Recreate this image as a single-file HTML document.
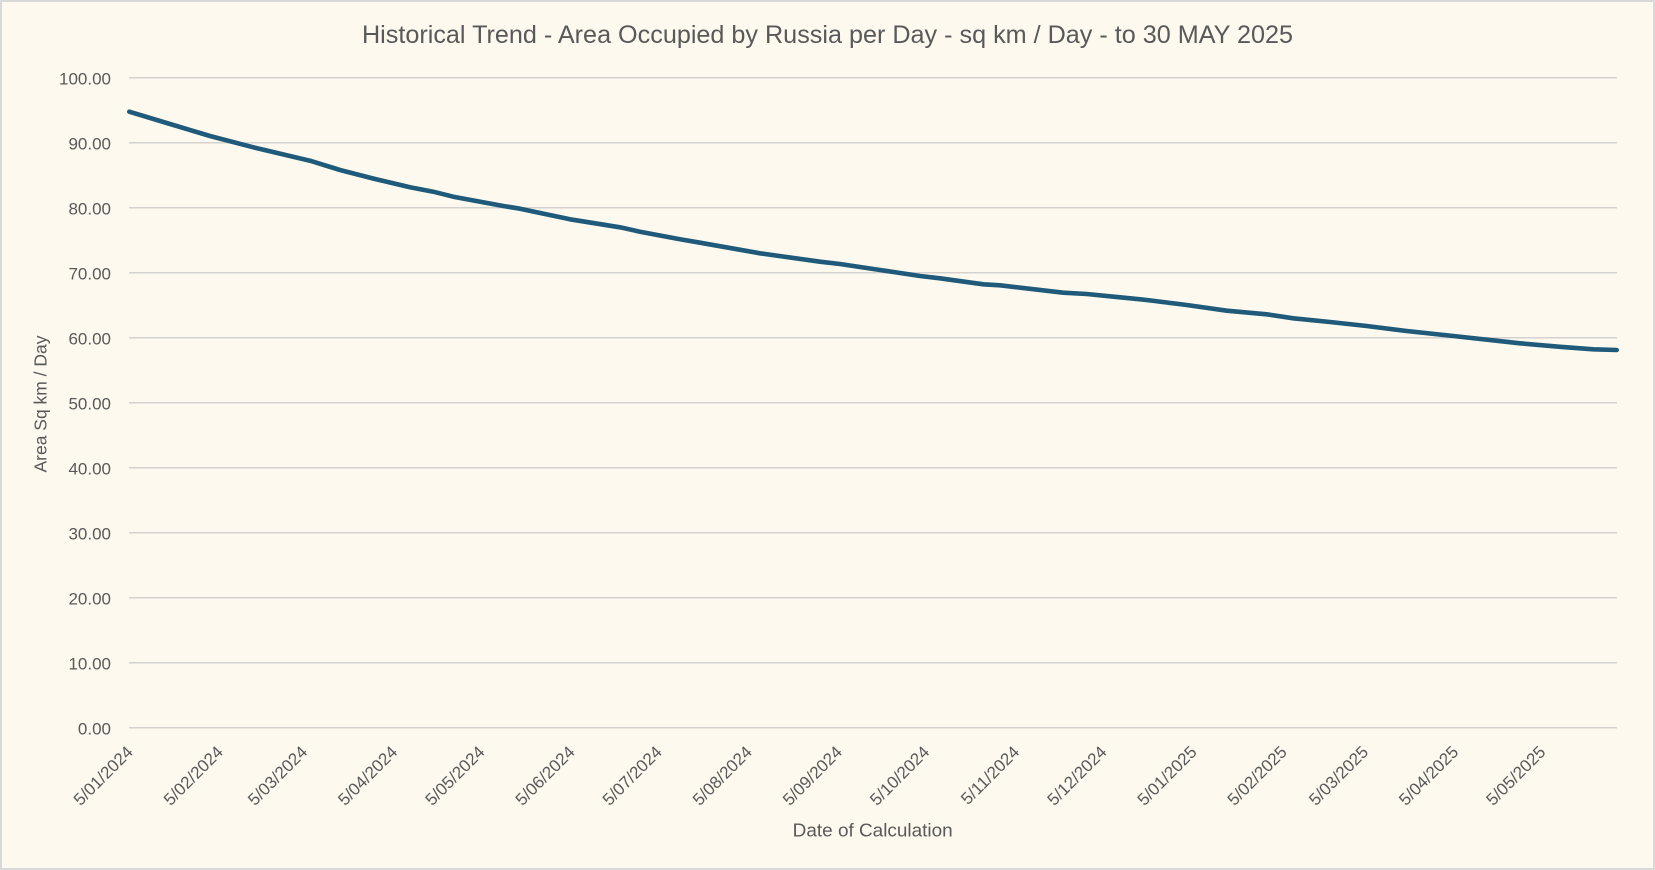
<!DOCTYPE html>
<html>
<head>
<meta charset="utf-8">
<style>
  html, body { margin: 0; padding: 0; background: #fdf9ee; }
  svg { display: block; }
  text { font-family: "Liberation Sans", Arial, sans-serif; fill: #595959; }
</style>
</head>
<body>
<svg width="1655" height="870" viewBox="0 0 1655 870" xmlns="http://www.w3.org/2000/svg">
  <rect x="0" y="0" width="1655" height="870" fill="#fdf9ee"/>
  <rect x="1" y="1" width="1653" height="868" fill="none" stroke="#d9d9d9" stroke-width="2"/>

  <!-- Title -->
  <text x="827.5" y="43" font-size="25" text-anchor="middle" textLength="931" lengthAdjust="spacingAndGlyphs">Historical Trend - Area Occupied by Russia per Day - sq km / Day - to 30 MAY 2025</text>

  <!-- Gridlines -->
  <g stroke="#d4d2cf" stroke-width="1.5">
    <line x1="129" y1="77.7" x2="1617" y2="77.7"/>
    <line x1="129" y1="142.7" x2="1617" y2="142.7"/>
    <line x1="129" y1="207.7" x2="1617" y2="207.7"/>
    <line x1="129" y1="272.7" x2="1617" y2="272.7"/>
    <line x1="129" y1="337.7" x2="1617" y2="337.7"/>
    <line x1="129" y1="402.7" x2="1617" y2="402.7"/>
    <line x1="129" y1="467.7" x2="1617" y2="467.7"/>
    <line x1="129" y1="532.7" x2="1617" y2="532.7"/>
    <line x1="129" y1="597.7" x2="1617" y2="597.7"/>
    <line x1="129" y1="662.7" x2="1617" y2="662.7"/>
    <line x1="129" y1="727.7" x2="1617" y2="727.7"/>
  </g>

  <!-- Y tick labels -->
  <g font-size="17" text-anchor="end">
    <text x="111" y="84.5">100.00</text>
    <text x="111" y="149.5">90.00</text>
    <text x="111" y="214.5">80.00</text>
    <text x="111" y="279.5">70.00</text>
    <text x="111" y="344.5">60.00</text>
    <text x="111" y="409.5">50.00</text>
    <text x="111" y="474.5">40.00</text>
    <text x="111" y="539.5">30.00</text>
    <text x="111" y="604.5">20.00</text>
    <text x="111" y="669.5">10.00</text>
    <text x="111" y="734.5">0.00</text>
  </g>

  <!-- X tick labels (rotated) -->
  <g font-size="17" text-anchor="end">
    <text transform="translate(134,753) rotate(-45)">5/01/2024</text>
    <text transform="translate(224.1,753) rotate(-45)">5/02/2024</text>
    <text transform="translate(308.4,753) rotate(-45)">5/03/2024</text>
    <text transform="translate(398.5,753) rotate(-45)">5/04/2024</text>
    <text transform="translate(485.7,753) rotate(-45)">5/05/2024</text>
    <text transform="translate(575.8,753) rotate(-45)">5/06/2024</text>
    <text transform="translate(663.0,753) rotate(-45)">5/07/2024</text>
    <text transform="translate(753.1,753) rotate(-45)">5/08/2024</text>
    <text transform="translate(843.2,753) rotate(-45)">5/09/2024</text>
    <text transform="translate(930.4,753) rotate(-45)">5/10/2024</text>
    <text transform="translate(1020.5,753) rotate(-45)">5/11/2024</text>
    <text transform="translate(1107.7,753) rotate(-45)">5/12/2024</text>
    <text transform="translate(1197.8,753) rotate(-45)">5/01/2025</text>
    <text transform="translate(1287.9,753) rotate(-45)">5/02/2025</text>
    <text transform="translate(1369.3,753) rotate(-45)">5/03/2025</text>
    <text transform="translate(1459.4,753) rotate(-45)">5/04/2025</text>
    <text transform="translate(1546.6,753) rotate(-45)">5/05/2025</text>
  </g>

  <!-- Axis titles -->
  <text x="872.7" y="836.7" font-size="18" text-anchor="middle" textLength="160" lengthAdjust="spacingAndGlyphs">Date of Calculation</text>
  <text transform="translate(46.5,404) rotate(-90)" font-size="17.5" text-anchor="middle" textLength="137" lengthAdjust="spacingAndGlyphs">Area Sq km / Day</text>

  <!-- Data line -->
  <polyline fill="none" stroke="#1f5a7a" stroke-width="4.6" stroke-linejoin="round" stroke-linecap="round"
    points="129.3,111.7 170,124 210,136 253.3,147.3 310,160.7 340,170 375,179 410,187.3 433.3,191.7 453.3,196.7 503.3,206 520,208.7 570,219.3 620,227.3 640,231.7 680,239.3 700,242.7 760,253.3 820,261.7 840,264 880,270 920,276 940,278.3 983.3,284.3 1000,285.3 1063.3,292.7 1086.7,294 1120,297.3 1146.7,300 1186.7,305 1226.7,310.7 1266.7,314.3 1293.3,318.3 1330,322 1366.7,326 1406.7,331 1453.3,336 1520,343.3 1560,346.8 1593.3,349.3 1616.7,350"/>
</svg>
</body>
</html>
